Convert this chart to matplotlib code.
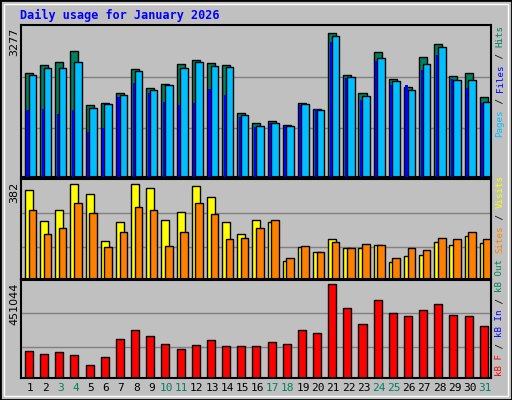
import numpy as np
import matplotlib.pyplot as plt
from matplotlib.patches import Rectangle

days = list(range(1, 32))
weekend = [3, 4, 10, 11, 17, 18, 24, 25, 31]
hits = [2300, 2470, 2540, 2800, 1585, 1630, 1870, 2390, 1975, 2060, 2500, 2580, 2520,
        2470, 1410, 1190, 1240, 1150, 1630, 1500, 3190, 2260, 1870, 2760, 2170, 1995,
        2650, 2950, 2240, 2300, 1780]
files = [2260, 2410, 2410, 2540, 1520, 1610, 1820, 2350, 1930, 2040, 2410, 2540, 2450,
         2430, 1370, 1130, 1190, 1130, 1610, 1480, 3125, 2210, 1800, 2630, 2130, 1930,
         2500, 2870, 2150, 2150, 1650]
pages = [1490, 1510, 1390, 1490, 1000, 1080, 1780, 2080, 1870, 1670, 1590, 1630, 1950,
         1820, 1320, 1110, 1190, 1130, 1590, 1500, 2990, 2190, 1710, 2560, 2040, 2040,
         2360, 2710, 2170, 1970, 1630]
visits = [358, 233, 279, 382, 343, 153, 229, 382, 365, 237, 269, 374, 328, 229, 182, 237,
          229, 74, 128, 107, 161, 124, 124, 136, 69, 94, 98, 148, 136, 174, 144]
sites = [279, 182, 203, 304, 265, 128, 190, 290, 279, 132, 190, 304, 262, 161, 165, 203,
         237, 83, 132, 107, 148, 124, 140, 136, 86, 124, 115, 165, 161, 190, 161]
kbf = [130000, 115000, 125000, 110000, 64000, 100000, 185000, 230000, 200000, 164000,
       140000, 160000, 180000, 155000, 155000, 155000, 170000, 164000, 230000, 215000,
       451044, 337000, 258000, 372000, 312000, 297000, 327000, 352000, 302000, 297000, 248000]

BG = '#c0c0c0'
W, H = 512, 400
fig = plt.figure(figsize=(5.12, 4.0), dpi=100, facecolor=BG)

def rect(px0, py0, px1, py1):
    return [px0 / W, 1 - py1 / H, (px1 - px0) / W, (py1 - py0) / H]

# outer frame
fig.patches.append(Rectangle((0, 0), 1, 1, transform=fig.transFigure, fill=False,
                             edgecolor='black', lw=2))
fig.patches.append(Rectangle((0.008, 0.01), 0.984, 0.98, transform=fig.transFigure,
                             fill=False, edgecolor='white', lw=1))

x = np.array(days) - 1

def setup(ax, ymax, top_frac):
    ax.set_facecolor(BG)
    ax.set_xlim(0, 31)
    ax.set_ylim(0, ymax / top_frac)
    ax.set_xticks([])
    ax.set_yticks([])
    for f in (0.32, 0.66):
        ax.axhline(f * ymax / top_frac, color='#808080', lw=1, zorder=0)
    for s in ax.spines.values():
        s.set_color('black')
        s.set_linewidth(1.5)

ax1 = fig.add_axes(rect(21, 25, 491, 177))
setup(ax1, 3277, 147 / 151)
ax1.bar(x + 0.26, hits, width=0.53, align='edge', color='#00805c', edgecolor='black', lw=1)
ax1.bar(x + 0.5, files, width=0.5, align='edge', color='#00bfff', edgecolor='black', lw=1)
ax1.bar(x + 0.36, pages, width=0.14, align='edge', color='#0000ff', lw=0, zorder=3)

ax2 = fig.add_axes(rect(21, 179, 491, 279))
setup(ax2, 382, 275 / 289)
ax2.bar(x + 0.26, visits, width=0.53, align='edge', color='#ffff00', edgecolor='black', lw=1)
ax2.bar(x + 0.5, sites, width=0.5, align='edge', color='#ff8000', edgecolor='black', lw=1)

ax3 = fig.add_axes(rect(21, 280, 491, 378))
setup(ax3, 451044, 273 / 284)
ax3.bar(x + 0.26, kbf, width=0.53, align='edge', color='#ff0000', edgecolor='black', lw=1)

for i, d in enumerate(days):
    fig.text((21 + (i + 0.6) * 470 / 31) / W, 1 - 388 / H, str(d), ha='center', va='center',
             fontsize=8, family='DejaVu Sans Mono',
             color='#00805c' if d in weekend else 'black')

fig.text(20 / W, 1 - 15 / H, 'Daily usage for January 2026', color='#0000ff',
         fontsize=8.5, family='DejaVu Sans Mono', fontweight='bold', va='center')

for lab, ytop in (('3277', 28), ('382', 182), ('451044', 283)):
    fig.text(14 / W, 1 - ytop / H, lab, rotation=90, ha='center', va='top', fontsize=8)

def vlabel(parts, ybottom):
    y = ybottom
    for txt, col in parts:
        fig.text(500 / W, 1 - y / H, txt, rotation=90, ha='center', va='bottom',
                 color=col, fontsize=6.6, family='DejaVu Sans Mono')
        y -= len(txt) * 5.6

vlabel([('Pages', '#00bfff'), (' / ', '#000000'), ('Files', '#0000ff'),
        (' / ', '#000000'), ('Hits', '#00805c')], 137)
vlabel([('kB F', '#ff0000'), (' / ', '#000000'), ('kB In', '#0000ff'),
        (' / ', '#000000'), ('kB Out', '#00805c'), (' ', '#000000'), ('Sites', '#ff8000'),
        (' / ', '#000000'), ('Visits', '#ffff00')], 376)

fig.savefig('out.png', dpi=100, facecolor=BG)
